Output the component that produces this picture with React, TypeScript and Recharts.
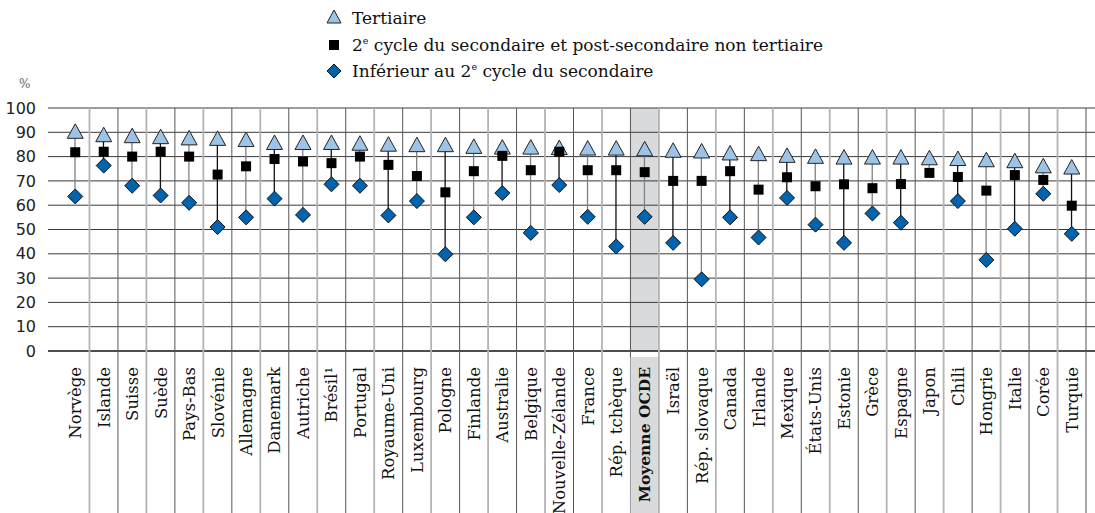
import React from "react";
import {
  ComposedChart,
  Bar,
  Line,
  XAxis,
  YAxis,
  CartesianGrid,
} from "recharts";

const countries = [
  "Norvège", "Islande", "Suisse", "Suède", "Pays-Bas", "Slovénie", "Allemagne",
  "Danemark", "Autriche", "Brésil¹", "Portugal", "Royaume-Uni", "Luxembourg",
  "Pologne", "Finlande", "Australie", "Belgique", "Nouvelle-Zélande", "France",
  "Rép. tchèque", "Moyenne OCDE", "Israël", "Rép. slovaque", "Canada", "Irlande",
  "Mexique", "États-Unis", "Estonie", "Grèce", "Espagne", "Japon", "Chili",
  "Hongrie", "Italie", "Corée", "Turquie",
];

const tertiary = [
  90.2, 88.8, 88.4, 88, 87.5, 87.3, 86.8, 85.6, 85.6, 85.6, 85.3, 84.9, 84.7,
  84.7, 84, 83.7, 83.7, 83.5, 83.3, 83.3, 83, 82.4, 82.1, 81.3, 81, 80.3, 79.9,
  79.6, 79.6, 79.6, 79.3, 79, 78.5, 78.1, 76, 75.5,
];

const upperSecondary = [
  81.8, 82, 80, 82, 80, 72.6, 76, 79, 78, 77.3, 80, 76.6, 72, 65.3, 74, 80.3,
  74.4, 82, 74.4, 74.4, 73.6, 70, 70, 74, 66.4, 71.5, 67.8, 68.6, 67, 68.7, 73.3,
  71.6, 66, 72.4, 70.4, 59.8,
];

const belowSecondary: (number | null)[] = [
  63.6, 76.3, 68, 64, 61, 51, 55, 62.7, 56, 68.6, 68, 55.8, 61.7, 39.8, 55, 65,
  48.6, 68.3, 55.2, 43, 55.2, 44.5, 29.5, 55, 46.7, 63, 52, 44.5, 56.6, 52.8, null,
  61.7, 37.5, 50.3, 64.7, 48.2,
];

const yTicks = [0, 10, 20, 30, 40, 50, 60, 70, 80, 90, 100];

const AVERAGE = "Moyenne OCDE";

const data = countries.map((name, i) => {
  const vals = [tertiary[i], upperSecondary[i], belowSecondary[i]].filter(
    (v) => v != null
  ) as number[];
  return {
    name,
    tertiary: tertiary[i],
    upper: upperSecondary[i],
    below: belowSecondary[i],
    range: [Math.min(...vals), Math.max(...vals)],
  };
});

const W = 1095;
const H = 513;
const TOP = 108;
const LEFT = 48;
const PAD_L = 13;
const PAD_R = 9;
const BAND = (W - LEFT - PAD_L - PAD_R) / countries.length;
const AVG_INDEX = countries.indexOf(AVERAGE);

const SERIF = "'DejaVu Serif', serif";
const TRI_FILL = "#9dc3e6";
const DIA_FILL = "#0063ae";
const HIGHLIGHT = "#d9dadc";

const Triangle = ({ cx, cy }: any) => {
  if (cx == null || cy == null) return null;
  return (
    <path
      d={`M${cx},${cy - 8} L${cx + 8},${cy + 6.5} L${cx - 8},${cy + 6.5} Z`}
      fill={TRI_FILL}
      stroke="#222"
      strokeWidth={1}
    />
  );
};

const Square = ({ cx, cy }: any) => {
  if (cx == null || cy == null) return null;
  return <rect x={cx - 5} y={cy - 5} width={10} height={10} fill="#000" />;
};

const Diamond = ({ cx, cy, payload }: any) => {
  if (cx == null || cy == null || payload?.below == null) return null;
  return (
    <path
      d={`M${cx},${cy - 7.5} L${cx + 7.5},${cy} L${cx},${cy + 7.5} L${cx - 7.5},${cy} Z`}
      fill={DIA_FILL}
      stroke="#111"
      strokeWidth={1}
    />
  );
};

const Connector = (props: any) => {
  const { x, y, width, height, index } = props;
  const cx = x + width / 2;
  return (
    <line
      x1={cx}
      x2={cx}
      y1={y}
      y2={y + height}
      stroke={index % 2 === 0 ? "#808080" : "#111"}
      strokeWidth={1.3}
    />
  );
};

const CountryTick = ({ x, y, payload, index }: any) => {
  const isAvg = payload.value === AVERAGE;
  const sepX = x + BAND / 2;
  const even = index % 2 === 0;
  return (
    <g>
      {isAvg && (
        <rect x={x - BAND / 2} y={y} width={BAND} height={H - y} fill={HIGHLIGHT} />
      )}
      <line
        x1={sepX}
        x2={sepX}
        y1={TOP}
        y2={H}
        stroke={even ? "#b4b4b4" : "#555"}
        strokeWidth={even ? 1.8 : 1}
      />
      <text
        transform={`translate(${x},${y + 10}) rotate(-90)`}
        textAnchor="end"
        dy="0.36em"
        style={{ fontFamily: SERIF }}
        fontSize={isAvg ? 15.5 : 16.5}
        fontWeight={isAvg ? 700 : 400}
        fill="#111"
      >
        {payload.value}
      </text>
    </g>
  );
};

// band of the average column, used for the grey stripe under the grid lines
const avgStripe = ({ xAxis }: any) => {
  const s = xAxis?.scale;
  if (s && typeof s === "function" && typeof s.bandwidth === "function") {
    const l = s(AVERAGE);
    return [l, l + s.bandwidth()];
  }
  const l = LEFT + PAD_L + AVG_INDEX * BAND;
  return [l, l + BAND];
};

const Legend = () => (
  <svg width={600} height={90} style={{ position: "absolute", left: 320, top: 0 }}>
    <path d="M14,10 L21,23 L7,23 Z" fill={TRI_FILL} stroke="#222" />
    <text x={32} y={18} dy="0.35em" fill="#111" fontFamily="DejaVu Serif" fontSize={17}>
      Tertiaire
    </text>
    <rect x={9} y={40} width={10} height={10} fill="#000" />
    <text x={32} y={45} dy="0.35em" fill="#111" fontFamily="DejaVu Serif" fontSize={17}>
      2<tspan fontSize={9.5} dy="-0.75em">e</tspan>
      <tspan dy="0.45em"> cycle du secondaire et post-secondaire non tertiaire</tspan>
    </text>
    <path d="M14,64 L21,71 L14,78 L7,71 Z" fill={DIA_FILL} stroke="#111" />
    <text x={32} y={71} dy="0.35em" fill="#111" fontFamily="DejaVu Serif" fontSize={17}>
      Inférieur au 2<tspan fontSize={9.5} dy="-0.75em">e</tspan>
      <tspan dy="0.45em"> cycle du secondaire</tspan>
    </text>
  </svg>
);

export default function App() {
  return (
    <div style={{ position: "absolute", left: 0, top: 0, width: W, height: H, background: "#fff" }}>
      <ComposedChart
        width={W}
        height={H}
        data={data}
        margin={{ top: TOP, right: 0, bottom: 0, left: 0 }}
        barCategoryGap={0}
      >
        <CartesianGrid
          horizontal={false}
          vertical={true}
          stroke="none"
          verticalCoordinatesGenerator={avgStripe}
          verticalFill={["none", HIGHLIGHT, "none"]}
          fillOpacity={1}
        />
        <CartesianGrid vertical={false} stroke="#3a3a3a" strokeWidth={1} />
        <XAxis
          dataKey="name"
          type="category"
          interval={0}
          height={H - 351}
          padding={{ left: PAD_L, right: PAD_R }}
          tick={<CountryTick />}
          tickLine={false}
          tickMargin={0}
          axisLine={{ stroke: "#000", strokeWidth: 1.2 }}
        />
        <YAxis
          domain={[0, 100]}
          ticks={yTicks}
          width={LEFT}
          axisLine={false}
          tickLine={false}
          tickMargin={6}
          interval={0}
          tick={{ fontFamily: "DejaVu Sans, sans-serif", fontSize: 16, fill: "#222" }}
        />
        <Bar dataKey="range" shape={<Connector />} isAnimationActive={false} legendType="none" />
        <Line
          dataKey="tertiary"
          stroke="none"
          dot={<Triangle />}
          activeDot={false}
          isAnimationActive={false}
        />
        <Line
          dataKey="upper"
          stroke="none"
          dot={<Square />}
          activeDot={false}
          isAnimationActive={false}
        />
        <Line
          dataKey="below"
          stroke="none"
          dot={<Diamond />}
          activeDot={false}
          isAnimationActive={false}
        />
      </ComposedChart>
      <Legend />
      <svg width={40} height={30} style={{ position: "absolute", left: 0, top: 70 }}>
        <text x={19} y={18} fill="#666" fontFamily="DejaVu Serif" fontSize={12}>
          %
        </text>
      </svg>
    </div>
  );
}
